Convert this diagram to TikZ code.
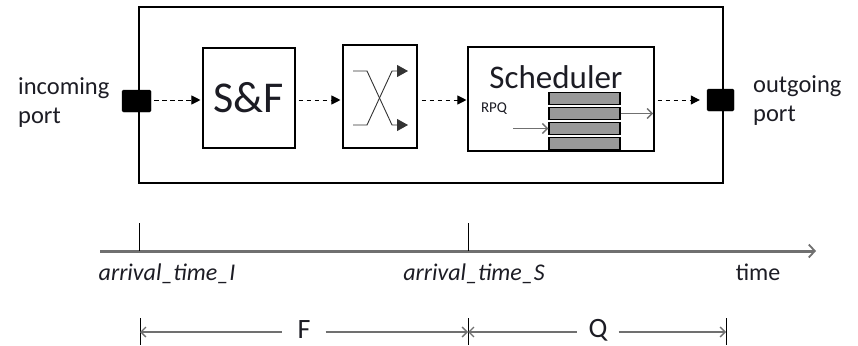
\documentclass[tikz,border=0pt]{standalone}
\usepackage{fontspec}
\setmainfont{Carlito}
\usetikzlibrary{arrows.meta}
\definecolor{axisgray}{HTML}{707070}
\definecolor{bargray}{HTML}{999999}
\definecolor{inkdark}{HTML}{1C1C24}
\begin{document}
\begin{tikzpicture}[x=1pt,y=-1pt,
  blockbox/.style={draw=black,line width=1.1pt,inner sep=0pt,fill=white},
  portbox/.style={fill=black,draw=black,rounded corners=1.5pt,inner sep=0pt},
  flow/.style={draw=black,line width=1pt,dash pattern=on 4.5pt off 3.5pt,
    -{Triangle[length=9pt,width=9pt]}},
  swline/.style={draw=black!80,line width=0.9pt,-{Triangle[length=11pt,width=12pt]}},
  qbar/.style={draw=black,line width=1.4pt,fill=bargray,inner sep=0pt,
    minimum width=71pt,minimum height=12pt},
  qarrow/.style={draw=axisgray,line width=1.4pt,-{Straight Barb[length=5pt,width=10pt]}},
  barb/.tip={Straight Barb[length=5pt,width=10pt]},
  span/.style={draw=axisgray,line width=1.3pt},
  lbl/.style={inner sep=0pt,text=inkdark,font=\fontsize{24.5}{27}\selectfont},
  tlbl/.style={inner sep=0pt,text=inkdark,font=\fontsize{24}{26}\selectfont\itshape},
  seglbl/.style={inner ysep=0pt,text=inkdark,anchor=base,font=\fontsize{28}{30}\selectfont},
  tick/.style={draw=black,line width=1pt}]
\useasboundingbox (0,0) rectangle (858,345);

% device outline
\node[blockbox,minimum width=584pt,minimum height=176pt] (dev) at (431,95) {};

% ports
\node[portbox,minimum width=29pt,minimum height=22pt] (inport) at (136.5,101) {};
\node[portbox,minimum width=27pt,minimum height=22pt] (outport) at (720.5,100) {};
\node[lbl,align=left,anchor=west] (inlbl) at (18,103) {incoming\\[2pt]port};
\node[lbl,align=left,anchor=west] (outlbl) at (753,101) {outgoing\\[2pt]port};

% processing blocks
\node[blockbox,minimum width=92pt,minimum height=100pt,
  font=\fontsize{44}{48}\selectfont,text=inkdark] (sf) at (249,98) {S\&F};
\node[blockbox,minimum width=74pt,minimum height=103pt] (sw) at (380,96.5) {};
\node[blockbox,minimum width=186pt,minimum height=104pt] (sch) at (561,99) {};
\node[inner sep=0pt,text=inkdark,font=\fontsize{33}{36}\selectfont] (schlbl) at (556,77) {Scheduler};
\node[inner sep=0pt,text=inkdark,font=\fontsize{15}{17}\selectfont] (rpq) at (494,109) {RPQ};

% crossbar inside the switch
\draw[swline] (353,71) -- (367,71) -- (392,125) -- (408,125);
\draw[swline] (353,125) -- (367,125) -- (392,71) -- (408,71);

% queue slots
\node[qbar] (q1) at (584.5,98.5) {};
\node[qbar] (q2) at (584.5,113.5) {};
\node[qbar] (q3) at (584.5,128.5) {};
\node[qbar] (q4) at (584.5,143.5) {};
\coordinate (qin) at (513,128.5);
\coordinate (qout) at (653,113.5);
\draw[qarrow] (qin) -- (q3.west);
\draw[qarrow] (q2.east) -- (qout);

% packet flow
\draw[flow,shorten <=3pt,shorten >=2pt] (inport.east |- 0,100) -- (sf.west |- 0,100);
\draw[flow,shorten <=3pt,shorten >=2pt] (sf.east |- 0,100) -- (sw.west |- 0,100);
\draw[flow,shorten <=4pt,shorten >=1pt] (sw.east |- 0,100) -- (sch.west |- 0,100);
\draw[flow,shorten <=3pt,shorten >=7pt] (sch.east |- 0,100) -- (outport.west |- 0,100);

% time axis
\coordinate (tstart) at (100,251);
\coordinate (tend) at (816,251);
\coordinate (tI) at (139,251);
\coordinate (tS) at (468,251);
\draw[draw=axisgray,line width=3pt,-{Straight Barb[length=6pt,width=13pt,line width=1.8pt]}] (tstart) -- (tend);
\draw[tick] (tI) -- ++(0,-28);
\draw[tick] (tS) -- ++(0,-28);
\node[tlbl] (lI) at (167,274) {arrival\_time\_I};
\node[tlbl] (lS) at (474,274) {arrival\_time\_S};
\node[lbl,font=\fontsize{24}{26}\selectfont] (ltime) at (758,272) {time};

% intervals
\coordinate (fL) at (140,332);
\coordinate (fR) at (468,332);
\coordinate (qR) at (726,332);
\draw[tick] (fL |- 0,318) -- (fL |- 0,345);
\draw[tick] (fR |- 0,318) -- (fR |- 0,345);
\draw[tick] (qR |- 0,318) -- (qR |- 0,345);
\node[seglbl,inner xsep=15pt] (F) at (304,338) {F};
\node[seglbl,inner xsep=11pt] (Q) at (598,337) {Q};
\draw[span,barb-] (fL) -- (F.west |- fL);
\draw[span,-barb] (F.east |- fL) -- (fR);
\draw[span,barb-] (fR) -- (Q.west |- fR);
\draw[span,-barb] (Q.east |- fR) -- (qR);
\end{tikzpicture}
\end{document}
